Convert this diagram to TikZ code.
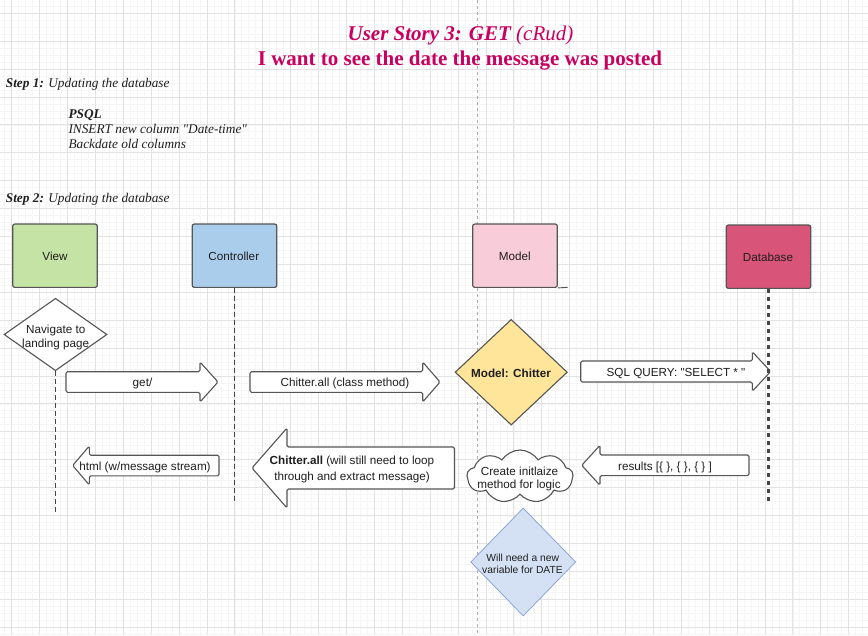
\documentclass[tikz,border=0pt]{standalone}
\usepackage{fontspec}
\setmainfont{Liberation Serif}[Ligatures=TeXOff]
\newfontfamily\af{Liberation Sans}
\usetikzlibrary{shapes.geometric,shapes.symbols}
\definecolor{titlec}{RGB}{200,0,95}
\definecolor{gmaj}{RGB}{226,226,226}
\definecolor{gmin}{RGB}{245,245,245}
\definecolor{boxgray}{RGB}{85,85,85}
\definecolor{lifegray}{RGB}{70,70,70}
\definecolor{txt}{RGB}{30,30,30}
\definecolor{vgreen}{RGB}{196,227,164}
\definecolor{cblue}{RGB}{169,205,235}
\definecolor{mpink}{RGB}{248,204,216}
\definecolor{dbred}{RGB}{216,84,121}
\definecolor{myellow}{RGB}{255,229,153}
\definecolor{dblue}{RGB}{212,225,245}
\definecolor{dbluestroke}{RGB}{130,160,210}
\newcommand\difont{\af\fontsize{11.7}{14.5}\selectfont}
\newcommand\smfont{\af\fontsize{10.3}{12}\selectfont}
\newcommand\flexarrow[6]{\draw[flexar] (#1,#4-#5) -- (#2,#4-#5) -- (#2,#4-#6) -- (#3,#4) -- (#2,#4+#6) -- (#2,#4+#5) -- (#1,#4+#5) -- cycle;}
\tikzset{
  hdr/.style={draw=boxgray, line width=1.2, rounded corners=2, minimum width=84.5, minimum height=63.3, inner sep=0, font=\difont, text=txt},
  flexar/.style={draw=boxgray, fill=white, line width=1.1, rounded corners=1.5, line join=round},
  lbl/.style={font=\difont, text=txt, inner sep=0, anchor=base},
  smlbl/.style={font=\smfont, text=txt, inner sep=0, anchor=base},
  steptxt/.style={font=\fontsize{13.3}{15}\selectfont\itshape, text=txt, inner sep=0, anchor=base west},
  life/.style={draw=lifegray, line width=1.3, dash pattern=on 5 off 3},
  dblife/.style={draw=lifegray, line width=3, dash pattern=on 4 off 4},
  midline/.style={draw={rgb,255:red,170;green,170;blue,170}, line width=0.7, dash pattern=on 3 off 3},
  dshape/.style={diamond, draw=boxgray, line width=1.1, inner sep=0}
}
\begin{document}
\begin{tikzpicture}[x=1pt,y=-1pt]
\useasboundingbox (0,0) rectangle (868,635);
\fill[white] (0,0) rectangle (868,635);
% grid
\foreach \i in {0,...,126} \draw[gmin, line width=0.8] ({-16.2+\i*6.975},0) -- ({-16.2+\i*6.975},635);
\foreach \i in {0,...,93} \draw[gmin, line width=0.8] (0,{-14.6+\i*6.975}) -- (868,{-14.6+\i*6.975});
\foreach \i in {0,...,31} \draw[gmaj, line width=0.9] ({11.7+\i*27.9},0) -- ({11.7+\i*27.9},635);
\foreach \i in {0,...,22} \draw[gmaj, line width=0.9] (0,{13.3+\i*27.9}) -- (868,{13.3+\i*27.9});
% middle dashed guide
\draw[midline] (477.5,0) -- (477.5,635);

% title
\node[inner sep=0, anchor=base, text=titlec, font=\fontsize{21}{25}\selectfont] (t1) at (460.5,40) {\bfseries\itshape User Story 3: GET \mdseries(cRud)};
\node[inner sep=0, anchor=base, text=titlec, font=\fontsize{21}{25}\selectfont\bfseries] (t2) at (460,65.5) {I want to see the date the message was posted};

% steps
\node[steptxt] (s1) at (5.7,87.5) {\bfseries Step 1: \mdseries Updating the database};
\node[steptxt] (psql) at (68.3,118.5) {\bfseries PSQL};
\node[steptxt] (ins) at (68.3,133.3) {INSERT new column "Date-time"};
\node[steptxt] (back) at (68.3,148.3) {Backdate old columns};
\node[steptxt] (s2) at (5.7,202.5) {\bfseries Step 2: \mdseries Updating the database};

% headers
\node[hdr, fill=vgreen] (view) at (55,255.7) {};
\node[hdr, fill=cblue] (ctrl) at (234.5,255.7) {};
\node[hdr, fill=mpink] (model) at (515,255.7) {};
\node[hdr, fill=dbred] (db) at (768.5,256.7) {};
\node[lbl] (viewt) at (55,260.9) {View};
\node[lbl] (ctrlt) at (233.8,260.9) {Controller};
\node[lbl] (modelt) at (514.8,260.9) {Model};
\node[lbl] (dbt) at (768,261.9) {Database};
\coordinate (mstub) at (567.7,287.3);
\draw[boxgray, line width=0.9] (model.south east) -- (mstub);

% navigate diamond
\node[dshape, fill=white, minimum width=103, minimum height=72.4] (nav) at (55.5,334.5) {};
\node[lbl] (nav1) at (55.7,333.2) {Navigate to};
\node[lbl] (nav2) at (55.7,347.5) {landing page};

% lifelines
\coordinate (vend) at (55.5,513.3);
\coordinate (cend) at (234.5,502.7);
\coordinate (dend) at (768.5,503.3);
\draw[life] (nav.south) -- (vend);
\draw[life] (ctrl.south) -- (cend);

% arrows
\flexarrow{66}{200}{218}{382}{10.3}{20}
\flexarrow{250}{422.7}{440}{382}{10.3}{20}
\flexarrow{580.7}{752.3}{770.7}{371.5}{10.5}{19.7}
\flexarrow{219}{89.3}{72.7}{465.5}{10.3}{19.5}
\flexarrow{454.5}{287}{252}{468}{21}{40}
\flexarrow{749}{600}{581.7}{465.3}{10.3}{20}
\node[lbl] (getl) at (142.5,386.9) {get/};
\node[lbl] (cal) at (345,386.9) {Chitter.all (class method)};
\node[lbl] (sqll) at (676,376.9) {SQL QUERY: "SELECT * "};
\node[lbl] (htmll) at (145,470.9) {html (w/message stream)};
\node[lbl] (big1) at (352,464.9) {\bfseries Chitter.all \mdseries(will still need to loop};
\node[lbl] (big2) at (352,480.2) {through and extract message)};
\node[lbl] (resl) at (665,470.2) {results [\{ \}, \{ \}, \{ \} ]};

% model diamond
\node[dshape, fill=myellow, minimum width=112.3, minimum height=105.7] (mc) at (511.2,372.2) {};
\node[lbl, font=\difont\bfseries] (mct) at (511,377.5) {Model: Chitter};

% cloud
\node[cloud, cloud puffs=9, cloud puff arc=115, cloud ignores aspect, draw=boxgray, fill=white, line width=1.1, minimum width=106, minimum height=53, inner sep=0] (cl) at (520,476.5) {};
\node[lbl] (cl1) at (519.5,475.9) {Create initlaize};
\node[lbl] (cl2) at (519,488.2) {method for logic};

% blue diamond
\node[diamond, draw=dbluestroke, fill=dblue, line width=0.7, inner sep=0, minimum width=105, minimum height=108] (bd) at (523.2,562) {};
\node[smlbl] (bd1) at (522.7,561.4) {Will need a new};
\node[smlbl] (bd2) at (522.5,573) {variable for DATE};

% database lifeline (on top)
\draw[dblife] (db.south) -- (dend);
\end{tikzpicture}
\end{document}
